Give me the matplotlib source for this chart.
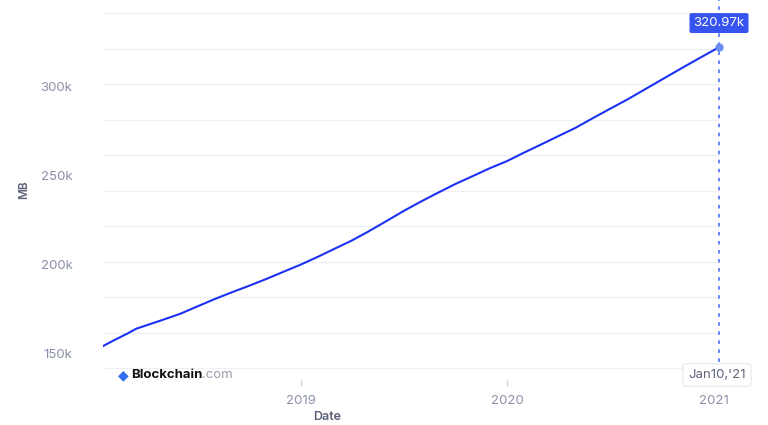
import pandas as pd
import matplotlib.pyplot as plt
from matplotlib.ticker import FixedLocator
from matplotlib.transforms import ScaledTranslation

# Blockchain size (MB)
dates = [
    "2018-01-16", "2018-02-01", "2018-03-01", "2018-03-16", "2018-04-01",
    "2018-05-01", "2018-06-01", "2018-07-01", "2018-08-01", "2018-09-01",
    "2018-10-01", "2018-11-01", "2018-12-01", "2019-01-01", "2019-02-01",
    "2019-03-01", "2019-04-01", "2019-05-01", "2019-06-01", "2019-07-01",
    "2019-08-01", "2019-09-01", "2019-10-01", "2019-11-01", "2019-12-01",
    "2020-01-01", "2020-02-01", "2020-03-01", "2020-04-01", "2020-05-01",
    "2020-06-01", "2020-07-01", "2020-08-01", "2020-09-01", "2020-10-01",
    "2020-11-01", "2020-12-01", "2021-01-01", "2021-01-10",
]
size_mb = [
    152600, 155300, 159800, 162400, 164100,
    167300, 170700, 174800, 179000, 182900,
    186500, 190400, 194400, 198500, 203000,
    207300, 212000, 217200, 222900, 228500,
    233900, 239000, 243800, 248300, 252700,
    256800, 261700, 266100, 270900, 275500,
    281000, 286200, 291500, 297200, 302700,
    308400, 313800, 319300, 320970,
]
ytick_vals = [150000, 200000, 250000, 300000]
ytick_labels = ["150k", "200k", "250k", "300k"]
grid_vals = [140000, 160000, 180000, 200000, 220000, 240000,
             260000, 280000, 300000, 320000, 340000]
year_ticks = ["2019-01-01", "2020-01-01", "2021-01-01"]
year_labels = ["2019", "2020", "2021"]
last_label = "320.97k"
last_date_label = "Jan10,'21"

x = pd.to_datetime(dates)
W, H = 768, 425

plt.rcParams["font.family"] = ["Inter", "DejaVu Sans"]
fig = plt.figure(figsize=(W / 100, H / 100), dpi=100)
ax = fig.add_axes([103 / W, 1 - 380 / H, (719 - 103) / W, 380 / H])

ax.set_xlim(x[0], x[-1])
ax.set_ylim(133500, 347500)

for g in grid_vals:
    ax.axhline(g, color="#eef0f4", lw=1, zorder=0)

ax.plot(x, size_mb, color="#1b32f2", lw=1.5, zorder=3)
ax.axvline(x[-1], color="#5b7df5", lw=1.3, ls=(0, (2, 3)), zorder=2, clip_on=False)
ax.plot(x[-1], size_mb[-1], "o", color="#6a8cf3", ms=5, zorder=4, clip_on=False)

ax.annotate(last_label, (x[-1], size_mb[-1]), xytext=(0, 13), textcoords="offset points",
            ha="center", va="bottom", color="white", fontsize=9.5,
            bbox=dict(boxstyle="round,pad=0.3,rounding_size=0.15", fc="#3753f0", ec="none"),
            zorder=6, annotation_clip=False)

for s in ax.spines.values():
    s.set_visible(False)

ax.yaxis.set_major_locator(FixedLocator(ytick_vals))
ax.set_yticklabels(ytick_labels)
ax.tick_params(axis="y", length=0, pad=22, labelsize=9.5, labelcolor="#8b90a8")
shift = ScaledTranslation(0, -2.5 / 100, fig.dpi_scale_trans)
for lab in ax.get_yticklabels():
    lab.set_transform(lab.get_transform() + shift)

ax.set_xticks(pd.to_datetime(year_ticks))
ax.set_xticklabels(year_labels)
ax.tick_params(axis="x", direction="out", length=4.5, width=1, color="#d0d3dc",
               pad=6, labelsize=9.5, labelcolor="#8b90a8")

fig.text(24 / W, 1 - 190 / H, "MB", rotation=90, ha="center", va="center",
         fontsize=8.5, fontweight="semibold", color="#5d6178")
fig.text(327 / W, 1 - 417 / H, "Date", ha="center", va="center",
         fontsize=9, fontweight="semibold", color="#5d6178")

# watermark
fig.text(123 / W, 1 - 375 / H, "\u25c6", ha="center", va="center", fontsize=10,
         color="#2f6ef0", family="DejaVu Sans")
t1 = fig.text(131 / W, 1 - 375 / H, "Blockchain", ha="left", va="center",
              fontsize=9.5, fontweight="bold", color="#111111")
fig.canvas.draw()
bb = t1.get_window_extent()
fig.text(bb.x1 / W, 1 - 375 / H, ".com", ha="left", va="center",
         fontsize=9.5, color="#9a9eae")

# date flag at the bottom of the crosshair
fig.text(717 / W, 1 - 375 / H, last_date_label, ha="center", va="center",
         fontsize=9.5, color="#60647a", zorder=7,
         bbox=dict(boxstyle="round,pad=0.4,rounding_size=0.2", fc="white",
                   ec="#e6e8ee", lw=0.8))

fig.savefig("out.png", dpi=100)
